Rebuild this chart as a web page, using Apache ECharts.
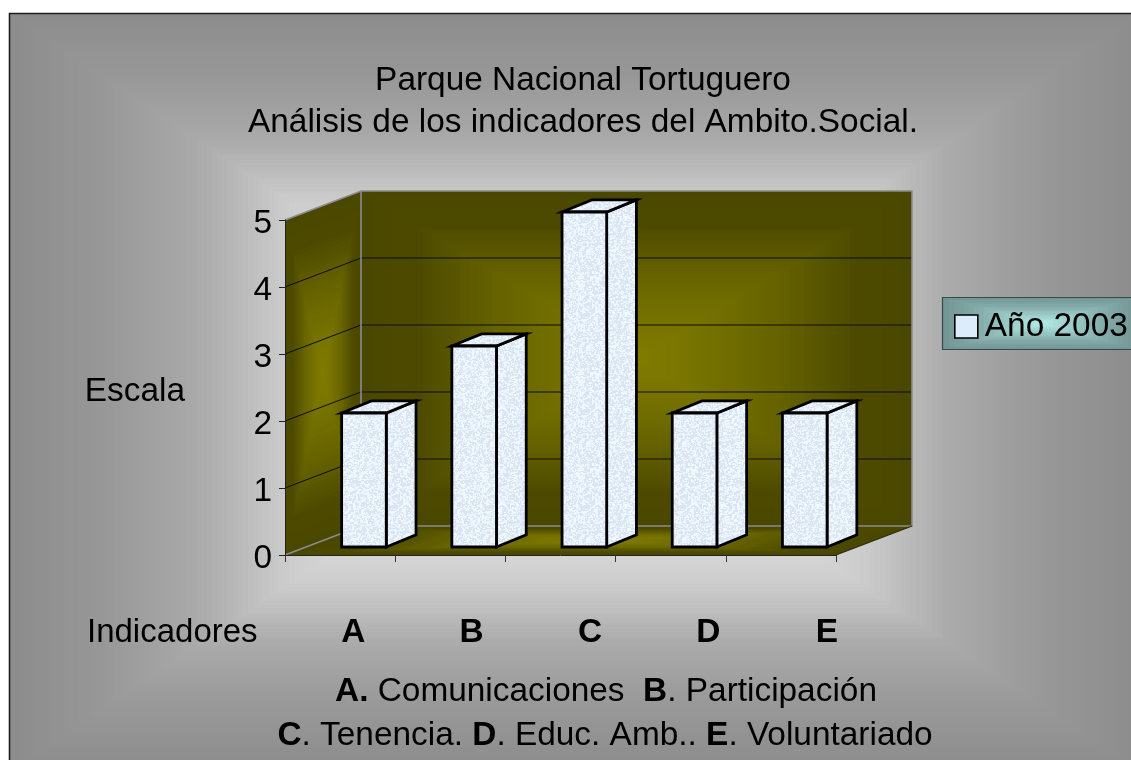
<!DOCTYPE html>
<html><head><meta charset="utf-8">
<style>html,body{margin:0;padding:0;background:#fff}#c{width:1131px;height:760px}</style>
<script src="https://cdn.jsdelivr.net/npm/echarts@6/dist/echarts.min.js"></script>
</head><body><div id="c"></div>
<script>
const categories = ['A','B','C','D','E'];
const values = [2,3,5,2,2];
const yTicks = [0,1,2,3,4,5];
const seriesName = 'Año 2003';
const FONT = '"Liberation Sans", Arial, sans-serif';
const W=1131, H=760;

// rectangular ("from centre") stepped gradient on a parallelogram, painted to a page-sized texture
function boxTexture(quad, stops, levels){
  const c=document.createElement('canvas');c.width=W;c.height=H;
  const g=c.getContext('2d'),img=g.createImageData(W,H),d=img.data;
  const p=quad[0],ax=quad[1][0]-p[0],ay=quad[1][1]-p[1],bx=quad[3][0]-p[0],by=quad[3][1]-p[1];
  const det=ax*by-ay*bx;
  const lut=[];
  for(let i=0;i<=levels;i++){
    const t=i/levels;let k=0;
    while(k<stops.length-2&&t>stops[k+1][0])k++;
    const a=stops[k],b=stops[k+1],f=Math.min(1,(t-a[0])/(b[0]-a[0]));
    lut.push([0,1,2].map(n=>a[1][n]+(b[1][n]-a[1][n])*f));
  }
  for(let y=0;y<H;y++)for(let x=0;x<W;x++){
    const rx=x+.5-p[0],ry=y+.5-p[1];
    const u=(rx*by-ry*bx)/det,v=(ax*ry-ay*rx)/det;
    const margin=0.02;
    if(u<-margin||u>1+margin||v<-margin||v>1+margin)continue;
    const m=Math.max(0,Math.min(1,2*Math.min(u,1-u,v,1-v)));
    const col=lut[Math.round(m*levels)],o=(y*W+x)*4;
    d[o]=col[0];d[o+1]=col[1];d[o+2]=col[2];d[o+3]=255;
  }
  g.putImageData(img,0,0);
  return c;
}
function quadEl(quad,stops,levels){
  return {type:'polygon',shape:{points:quad},style:{fill:{image:boxTexture(quad,stops,levels),repeat:'no-repeat'}}};
}
const g3=v=>[v,v,v];
const bgStops=[[0,g3(140)],[.16,g3(151)],[.25,g3(160)],[.34,g3(171)],[.4,g3(184)],[.48,g3(202)],[.7,g3(230)],[1,g3(240)]];
const wallStops=[[0,[74,71,0]],[.2,[77,74,0]],[.5,[102,99,0]],[.8,[120,116,0]],[1,[128,124,0]]];
const legendStops=[[0,[111,147,145]],[.4,[134,174,172]],[1,[180,236,232]]];

// speckled texture of the bars (deterministic)
const tex=document.createElement('canvas');tex.width=tex.height=96;
(function(){
  const g=tex.getContext('2d');g.fillStyle='#e2eefa';g.fillRect(0,0,96,96);
  const pal=['#f2f8ff','#dbe4f3','#e8f8ff','#dde4ee','#f0f6fe','#d9e5f7'];
  for(let y=0;y<96;y+=1)for(let x=0;x<96;x+=1){
    const h=Math.sin(x*12.9898+y*78.233)*43758.5453,fr=h-Math.floor(h);
    if(fr<0.45){g.fillStyle=pal[Math.floor(fr*40)%6];g.fillRect(x,y,2,2);}
  }
})();

const DX=76, DY=-29;
let wallCache=null;
function renderWalls(params,api){
  const band=api.size([1,0])[0];
  const o=api.coord([0,0]); const x0=o[0]-band/2, y0=o[1];
  const x1=api.coord([categories.length-1,0])[0]+band/2;
  const yt=api.coord([0,yTicks[yTicks.length-1]])[1];
  const back=[[x0+DX,yt+DY],[x1+DX,yt+DY],[x1+DX,y0+DY],[x0+DX,y0+DY]];
  const side=[[x0,yt],[x0+DX,yt+DY],[x0+DX,y0+DY],[x0,y0]];
  const floor=[[x0+DX,y0+DY],[x1+DX,y0+DY],[x1,y0],[x0,y0]];
  if(!wallCache) wallCache=[quadEl(back,wallStops,60),quadEl(side,wallStops,40),quadEl(floor,wallStops,30)];
  const ch=wallCache.slice();
  yTicks.slice(1,-1).forEach(t=>{
    const y=api.coord([0,t])[1];
    ch.push({type:'polyline',shape:{points:[[x0,y],[x0+DX,y+DY],[x1+DX,y+DY]]},style:{fill:null,stroke:'#0c0c04',lineWidth:1}});
  });
  const gray='#8c8c8c';
  ch.push({type:'polyline',shape:{points:[[x0,yt],[x0+DX,yt+DY],[x1+DX,yt+DY],[x1+DX,y0+DY],[x0+DX,y0+DY],[x0,y0]]},style:{fill:null,stroke:gray,lineWidth:1.6}});
  ch.push({type:'line',shape:{x1:x0+DX,y1:yt+DY,x2:x0+DX,y2:y0+DY},style:{stroke:gray,lineWidth:1.6}});
  ch.push({type:'line',shape:{x1:x1+DX,y1:y0+DY,x2:x1,y2:y0},style:{stroke:'#2c2a10',lineWidth:1.2}});
  return {type:'group',children:ch};
}
function renderBar(params,api){
  const band=api.size([1,0])[0];
  const b=api.coord([api.value(0),0]), t=api.coord([api.value(0),api.value(1)]);
  const l=b[0]+band*0.014, w=band*0.405, ox=band*0.27, oy=-band*0.11, lift=-8;
  const yb=b[1]+lift, yt=t[1]+lift, r=l+w;
  const st={fill:{image:tex,repeat:'repeat'},stroke:'#000',lineWidth:2.8,lineJoin:'miter'};
  return {type:'group',children:[
    {type:'polygon',shape:{points:[[r,yb],[r+ox,yb+oy],[r+ox,yt+oy],[r,yt]]},style:st},
    {type:'polygon',shape:{points:[[l,yt],[r,yt],[r+ox,yt+oy],[l+ox,yt+oy]]},style:st},
    {type:'polygon',shape:{points:[[l,yb],[r,yb],[r,yt],[l,yt]]},style:st}
  ]};
}
const bgQuad=[[9,13],[1140,13],[1140,772],[9,772]];
const legQuad=[[942,297],[1140,297],[1140,350],[942,350]];
const bold=(s)=>'{b|'+s+'}';
const FS=33.4;
const richText={fontFamily:FONT,fontSize:FS,fontWeight:'normal',color:'#000',rich:{b:{fontFamily:FONT,fontSize:FS,fontWeight:'bold',color:'#000'}}};
const chart=echarts.init(document.getElementById('c'),null,{renderer:'canvas'});
chart.setOption({
  animation:false,
  backgroundColor:'#fff',
  textStyle:{fontFamily:FONT,color:'#000'},
  graphic:{elements:[
    {type:'group',z:-5,silent:true,children:[quadEl(bgQuad,bgStops,110),
      {type:'polyline',shape:{points:[[1140,13.5],[9.5,13.5],[9.5,772]]},style:{fill:null,stroke:'#1e1e1e',lineWidth:1.6}}
    ]},
    {type:'group',z:-4,silent:true,children:[quadEl(legQuad,legendStops,20),
      {type:'rect',shape:{x:942.5,y:297.5,width:200,height:52},style:{fill:null,stroke:'#3a4a4a',lineWidth:1.2}}
    ]}
  ]},
  title:[
    {text:'Parque Nacional Tortuguero\nAnálisis de los indicadores del Ambito.Social.',left:578,top:55,textAlign:'center',
     textStyle:{fontFamily:FONT,fontSize:FS,fontWeight:'normal',color:'#000',lineHeight:42}},
    {text:'Indicadores',left:82,top:611,textStyle:{fontFamily:FONT,fontSize:33,fontWeight:'normal',color:'#000'}},
    {text:bold('A.')+' Comunicaciones  '+bold('B')+'. Participación',left:601,top:670,textAlign:'center',textStyle:richText},
    {text:bold('C')+'. Tenencia. '+bold('D')+'. Educ. Amb.. '+bold('E')+'. Voluntariado',left:600,top:714,textAlign:'center',textStyle:richText}
  ],
  legend:{data:[seriesName],left:954,top:310,padding:0,icon:'rect',itemWidth:23,itemHeight:23,itemGap:0,selectedMode:false,
    itemStyle:{color:'#dcecfb',borderColor:'#000',borderWidth:1.6},
    textStyle:{fontFamily:FONT,fontSize:FS,color:'#000',padding:[0,0,0,2]}},
  grid:[
    {left:285,top:220,width:551,height:335,containLabel:false},
    {left:294,top:612,width:592,height:1}
  ],
  xAxis:[
    {type:'category',gridIndex:0,data:categories,z:5,axisLine:{lineStyle:{color:'#222',width:1}},axisTick:{show:true,length:7,lineStyle:{color:'#333'}},axisLabel:{show:false},splitLine:{show:false}},
    {type:'category',gridIndex:1,data:categories,axisLine:{show:false},axisTick:{show:false},
     axisLabel:{show:true,interval:0,margin:3,fontFamily:FONT,fontSize:FS,fontWeight:'bold',color:'#000'}}
  ],
  yAxis:[
    {type:'value',gridIndex:0,min:0,max:5,interval:1,z:5,name:'{n|Escala}',nameLocation:'middle',nameRotate:0,nameGap:100,
     nameTextStyle:{fontFamily:FONT,fontSize:FS,color:'#000',align:'right',verticalAlign:'middle',
       rich:{n:{fontFamily:FONT,fontSize:FS,color:'#000',padding:[8,0,0,0]}}},
     axisLine:{show:true,lineStyle:{color:'#222',width:1}},axisTick:{show:true,length:6,lineStyle:{color:'#222'}},
     axisLabel:{margin:13,fontFamily:FONT,fontSize:FS,color:'#000',formatter:'{v|{value}}',
       rich:{v:{fontFamily:FONT,fontSize:FS,color:'#000',padding:[7,0,0,0]}}},splitLine:{show:false}},
    {type:'value',gridIndex:1,show:false,min:0,max:1}
  ],
  tooltip:{show:false},
  series:[
    {type:'custom',name:'Paredes',z:1,silent:true,xAxisIndex:0,yAxisIndex:0,clip:false,renderItem:renderWalls,data:[[0,0]],encode:{x:0,y:1}},
    {type:'custom',name:seriesName,z:3,silent:true,xAxisIndex:0,yAxisIndex:0,clip:false,renderItem:renderBar,
     itemStyle:{color:'#dcecfb'},data:values.map((v,i)=>[i,v]),encode:{x:0,y:1}}
  ]
});
</script></body></html>
